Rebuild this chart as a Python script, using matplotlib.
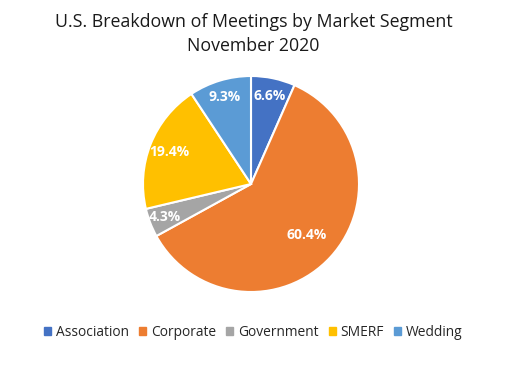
import matplotlib
matplotlib.use("Agg")
import matplotlib.pyplot as plt
import numpy as np

categories = ["Association", "Corporate", "Government", "SMERF", "Wedding"]
values = [6.6, 60.4, 4.3, 19.4, 9.3]
colors = ["#4472C4", "#ED7D31", "#A5A5A5", "#FFC000", "#5B9BD5"]
label_dist = [0.83, 0.70, 0.86, 0.81, 0.84]

plt.rcParams['font.family'] = ['Open Sans', 'DejaVu Sans']

fig = plt.figure(figsize=(5.07, 3.65), dpi=100)
W, H = 507, 365
cx, cy, r = 251, 184, 108
ax = fig.add_axes([(cx - r) / W, (H - cy - r) / H, 2 * r / W, 2 * r / H])

wedges, _ = ax.pie(values, colors=colors, startangle=90, counterclock=False,
                   radius=1.0, wedgeprops=dict(edgecolor="white", linewidth=1.5))
for w, v, d in zip(wedges, values, label_dist):
    ang = np.deg2rad((w.theta1 + w.theta2) / 2)
    ax.text(d * np.cos(ang), d * np.sin(ang), f"{v:.1f}%", ha="center", va="center",
            color="white", fontsize=10, fontweight="bold")
ax.set_xlim(-1, 1)
ax.set_ylim(-1, 1)
ax.set_aspect("equal")
ax.axis("off")

fig.text(0.5, 1 - 22 / H, "U.S. Breakdown of Meetings by Market Segment", ha="center",
         va="center", fontsize=12.8, color="#1a1a1a")
fig.text(0.5, 1 - 46 / H, "November 2020", ha="center", va="center", fontsize=12.8,
         color="#1a1a1a")

handles = [plt.Rectangle((0, 0), 1, 1, color=c) for c in colors]
fig.legend(handles, categories, loc="center", bbox_to_anchor=(0.5, 1 - 332 / H),
           ncol=5, frameon=False, fontsize=9.9, handlelength=0.5, handleheight=0.5,
           handletextpad=0.35, columnspacing=0.75, labelcolor="#262626")

fig.savefig("out.png", dpi=100)
